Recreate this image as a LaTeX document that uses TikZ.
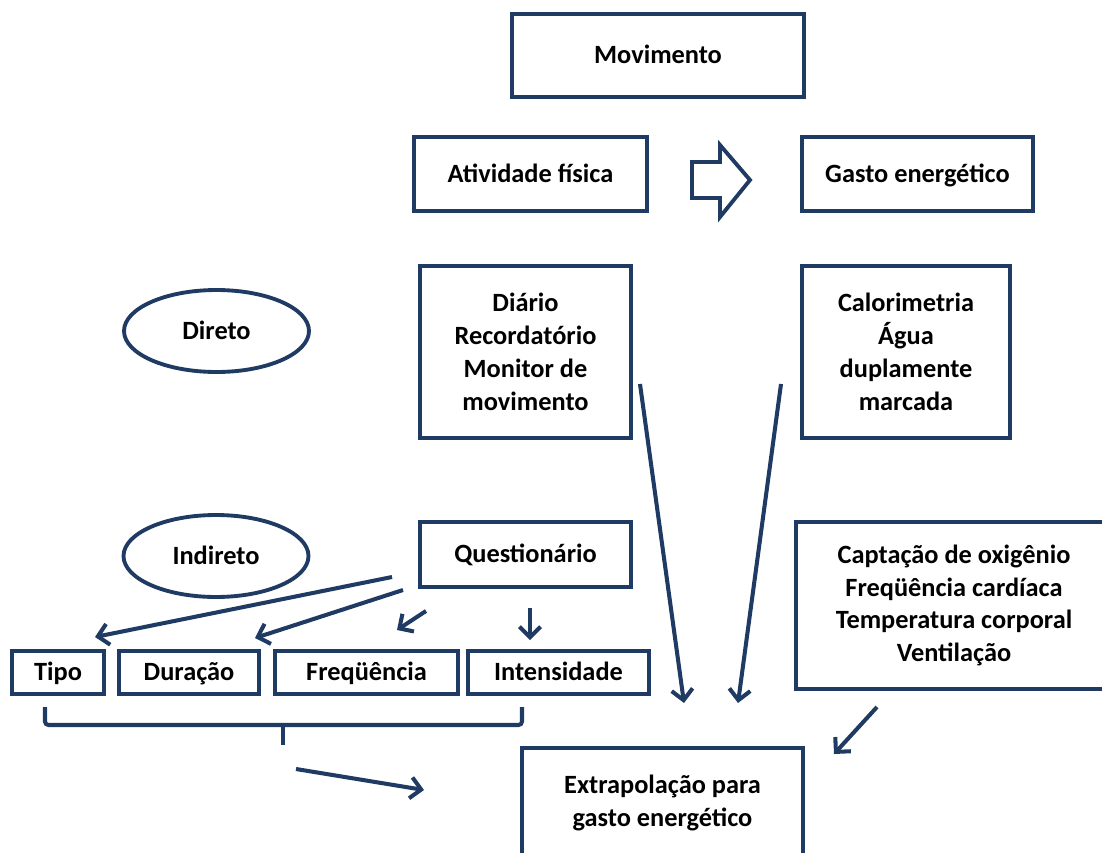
\documentclass[tikz,border=0pt]{standalone}
\usepackage{fontspec}
\setmainfont{Carlito}
\usetikzlibrary{arrows.meta,shapes.geometric}
\definecolor{cLine}{HTML}{1F3B63}
\tikzset{
  quadro/.style={draw=cLine,line width=2.2pt,fill=white,align=center,
      font=\bfseries\fontsize{15}{18.7}\selectfont,inner sep=2pt},
  linha/.style={text height=2.3ex,text depth=0.3ex},
  oval/.style={quadro,linha,ellipse,minimum width=3.70cm,minimum height=1.64cm},
  conn/.style={-{Straight Barb[length=6pt,width=12pt]},draw=cLine,line width=2.3pt},
  chave/.style={draw=cLine,line width=2.3pt,rounded corners=2pt},
  vazada/.style={draw=cLine,line width=2.2pt,fill=white,line join=miter},
}
\newcommand{\quadro}[6][]{%
  \node[quadro,#1,minimum width=#4cm,minimum height=#5cm] (#2) at (#3) {#6};}
\newcommand{\seta}[2]{\draw[conn] (#1) -- (#2);}

\begin{document}
\begin{tikzpicture}[x=0.02cm,y=-0.02cm]
  \useasboundingbox (0,0) rectangle (1102,852);

  \quadro[linha]{mov}{658,55.5}{5.84}{1.66}{Movimento}
  \quadro[linha]{ativ}{530.5,174}{4.66}{1.48}{Atividade física}
  \quadro[linha]{gasto}{917.5,174}{4.62}{1.48}{Gasto energético}
  \draw[vazada] (692,162) -- (720,162) -- (720,145) -- (750,180)
    -- (720,217) -- (720,198) -- (692,198) -- cycle;

  \node[oval] (direto) at (216.5,331) {Direto};
  \quadro{diario}{525.5,352}{4.22}{3.44}{Diário\\Recordatório\\Monitor de\\movimento}
  \quadro{calor}{906,352}{4.16}{3.44}{Calorimetria\\Água\\duplamente\\marcada}

  \node[oval] (indireto) at (216,556) {Indireto};
  \quadro[linha]{quest}{525.5,554.5}{4.22}{1.30}{Questionário}
  \quadro{capt}{954,605.5}{6.32}{3.34}{Captação de oxigênio\\Freqüência cardíaca\\Temperatura corporal\\Ventilação}

  \quadro[linha]{tipo}{58,672.5}{1.84}{0.86}{Tipo}
  \quadro[linha]{dur}{189,672.5}{2.80}{0.86}{Duração}
  \quadro[linha]{freq}{366.5,672.5}{3.66}{0.86}{Freqüência}
  \quadro[linha]{inten}{558.5,672.5}{3.62}{0.86}{Intensidade}

  \quadro{extra}{662.5,803}{5.62}{2.20}{Extrapolação para\\gasto energético}

  % setas soltas
  \coordinate (q1s) at (392,577); \coordinate (q1e) at (95,637);
  \coordinate (q2s) at (403,590); \coordinate (q2e) at (255,638);
  \coordinate (q3s) at (426,611); \coordinate (q3e) at (397,630);
  \coordinate (q4s) at (530,608); \coordinate (q4e) at (530,640);
  \coordinate (d1s) at (640,384); \coordinate (d1e) at (684,703);
  \coordinate (c1s) at (781,384); \coordinate (c1e) at (738,703);
  \coordinate (k1s) at (877,707); \coordinate (k1e) at (834,754);
  \coordinate (b1s) at (296,769); \coordinate (b1e) at (424,790);
  \seta{q1s}{q1e}\seta{q2s}{q2e}\seta{q3s}{q3e}\seta{q4s}{q4e}
  \seta{d1s}{d1e}\seta{c1s}{c1e}\seta{k1s}{k1e}\seta{b1s}{b1e}

  % chave sob Tipo ... Intensidade
  \coordinate (br1) at (45,707); \coordinate (br2) at (522,707);
  \coordinate (brm) at (283,725); \coordinate (brc) at (283,745);
  \draw[chave] (br1) |- (brm) -| (br2);
  \draw[chave] (brm) -- (brc);
\end{tikzpicture}
\end{document}
